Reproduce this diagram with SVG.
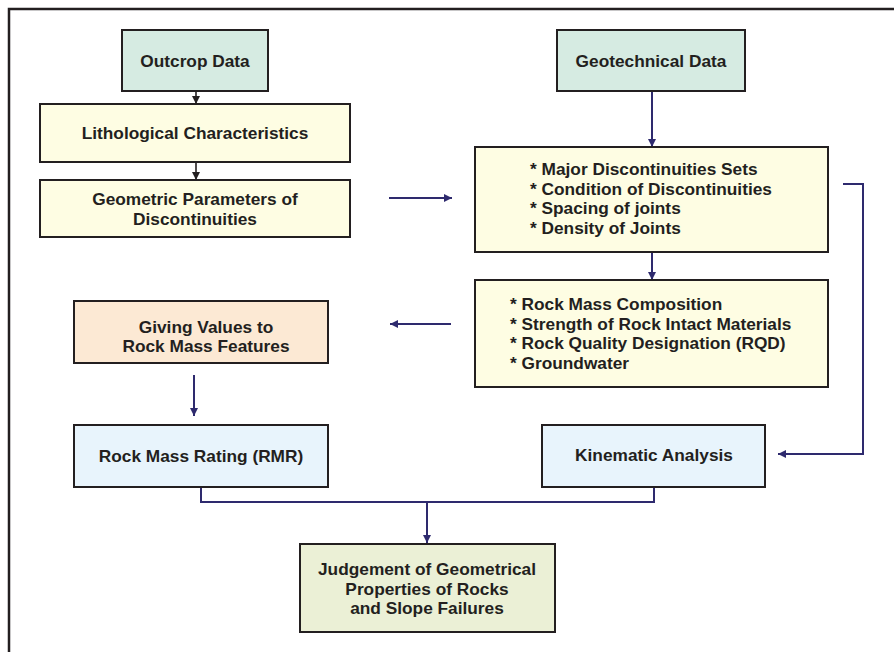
<svg xmlns="http://www.w3.org/2000/svg" width="894" height="652" viewBox="0 0 894 652">
<style>
.box{stroke:#231f20;stroke-width:2}
.t{font-family:"Liberation Sans",Arial,sans-serif;font-weight:bold;font-size:17.3px;fill:#231f20}
.c{text-anchor:middle}
.con{fill:none;stroke:#2e2a6e;stroke-width:2}
.blk{fill:none;stroke:#231f20;stroke-width:1.6}
</style>
<defs>
<marker id="an" viewBox="0 0 10 10" refX="10" refY="5" markerWidth="8" markerHeight="8" markerUnits="userSpaceOnUse" orient="auto"><path d="M0,0L10,5L0,10z" fill="#2e2a6e"/></marker>
<marker id="ab" viewBox="0 0 10 10" refX="10" refY="5" markerWidth="8" markerHeight="8" markerUnits="userSpaceOnUse" orient="auto"><path d="M0,0L10,5L0,10z" fill="#231f20"/></marker>
</defs>
<rect width="894" height="652" fill="#fff"/>
<path d="M9,652V9H894" fill="none" stroke="#231f20" stroke-width="2.5"/>
<g id="connectors">
<path class="blk" d="M196,91V104" marker-end="url(#ab)"/>
<path class="blk" d="M196,162V180" marker-end="url(#ab)"/>
<path class="con" d="M389,198H452" marker-end="url(#an)"/>
<path class="con" d="M652,91V147" marker-end="url(#an)"/>
<path class="con" d="M652,252V280" marker-end="url(#an)"/>
<path class="con" d="M451,324H390" marker-end="url(#an)"/>
<path class="con" d="M194,375V416" marker-end="url(#an)"/>
<path class="con" d="M843,184H863V454H778" marker-end="url(#an)"/>
<path class="con" d="M201,487V502H654V487"/>
<path class="con" d="M427,502V543" marker-end="url(#an)"/>
</g>
<g id="outcrop"><rect class="box" x="122" y="30" width="146" height="61" fill="#d6ebe2"/><text class="t c" x="195" y="66.5">Outcrop Data</text></g>
<g id="litho"><rect class="box" x="40" y="104" width="310" height="58" fill="#fefde3"/><text class="t c" x="195" y="139">Lithological Characteristics</text></g>
<g id="geometric"><rect class="box" x="40" y="180" width="310" height="57" fill="#fefde3"/><text class="t c" x="195" y="205">Geometric Parameters of</text><text class="t c" x="195" y="225">Discontinuities</text></g>
<g id="geotech"><rect class="box" x="557" y="30" width="188" height="61" fill="#d6ebe2"/><text class="t c" x="651" y="67">Geotechnical Data</text></g>
<g id="discont"><rect class="box" x="475" y="147" width="353" height="105" fill="#fefde3"/>
<text class="t" x="530" y="175">* Major Discontinuities Sets</text>
<text class="t" x="530" y="194.5">* Condition of Discontinuities</text>
<text class="t" x="530" y="214">* Spacing of joints</text>
<text class="t" x="530" y="233.5">* Density of Joints</text></g>
<g id="rockmass"><rect class="box" x="475" y="280" width="353" height="107" fill="#fefde3"/>
<text class="t" x="510" y="310">* Rock Mass Composition</text>
<text class="t" x="510" y="329.5">* Strength of Rock Intact Materials</text>
<text class="t" x="510" y="349">* Rock Quality Designation (RQD)</text>
<text class="t" x="510" y="368.5">* Groundwater</text></g>
<g id="giving"><rect class="box" x="74" y="301" width="254" height="62" fill="#fce9d4"/><text class="t c" x="206" y="333">Giving Values to</text><text class="t c" x="206" y="352">Rock Mass Features</text></g>
<g id="rmr"><rect class="box" x="74" y="425" width="254" height="62" fill="#e8f4fc"/><text class="t c" x="201" y="462">Rock Mass Rating (RMR)</text></g>
<g id="kinematic"><rect class="box" x="542" y="425" width="223" height="62" fill="#e8f4fc"/><text class="t c" x="654" y="461">Kinematic Analysis</text></g>
<g id="judgement"><rect class="box" x="300" y="544" width="255" height="88" fill="#ebf0d6"/>
<text class="t c" x="427" y="575">Judgement of Geometrical</text>
<text class="t c" x="427" y="595">Properties of Rocks</text>
<text class="t c" x="427" y="614">and Slope Failures</text></g>
</svg>
